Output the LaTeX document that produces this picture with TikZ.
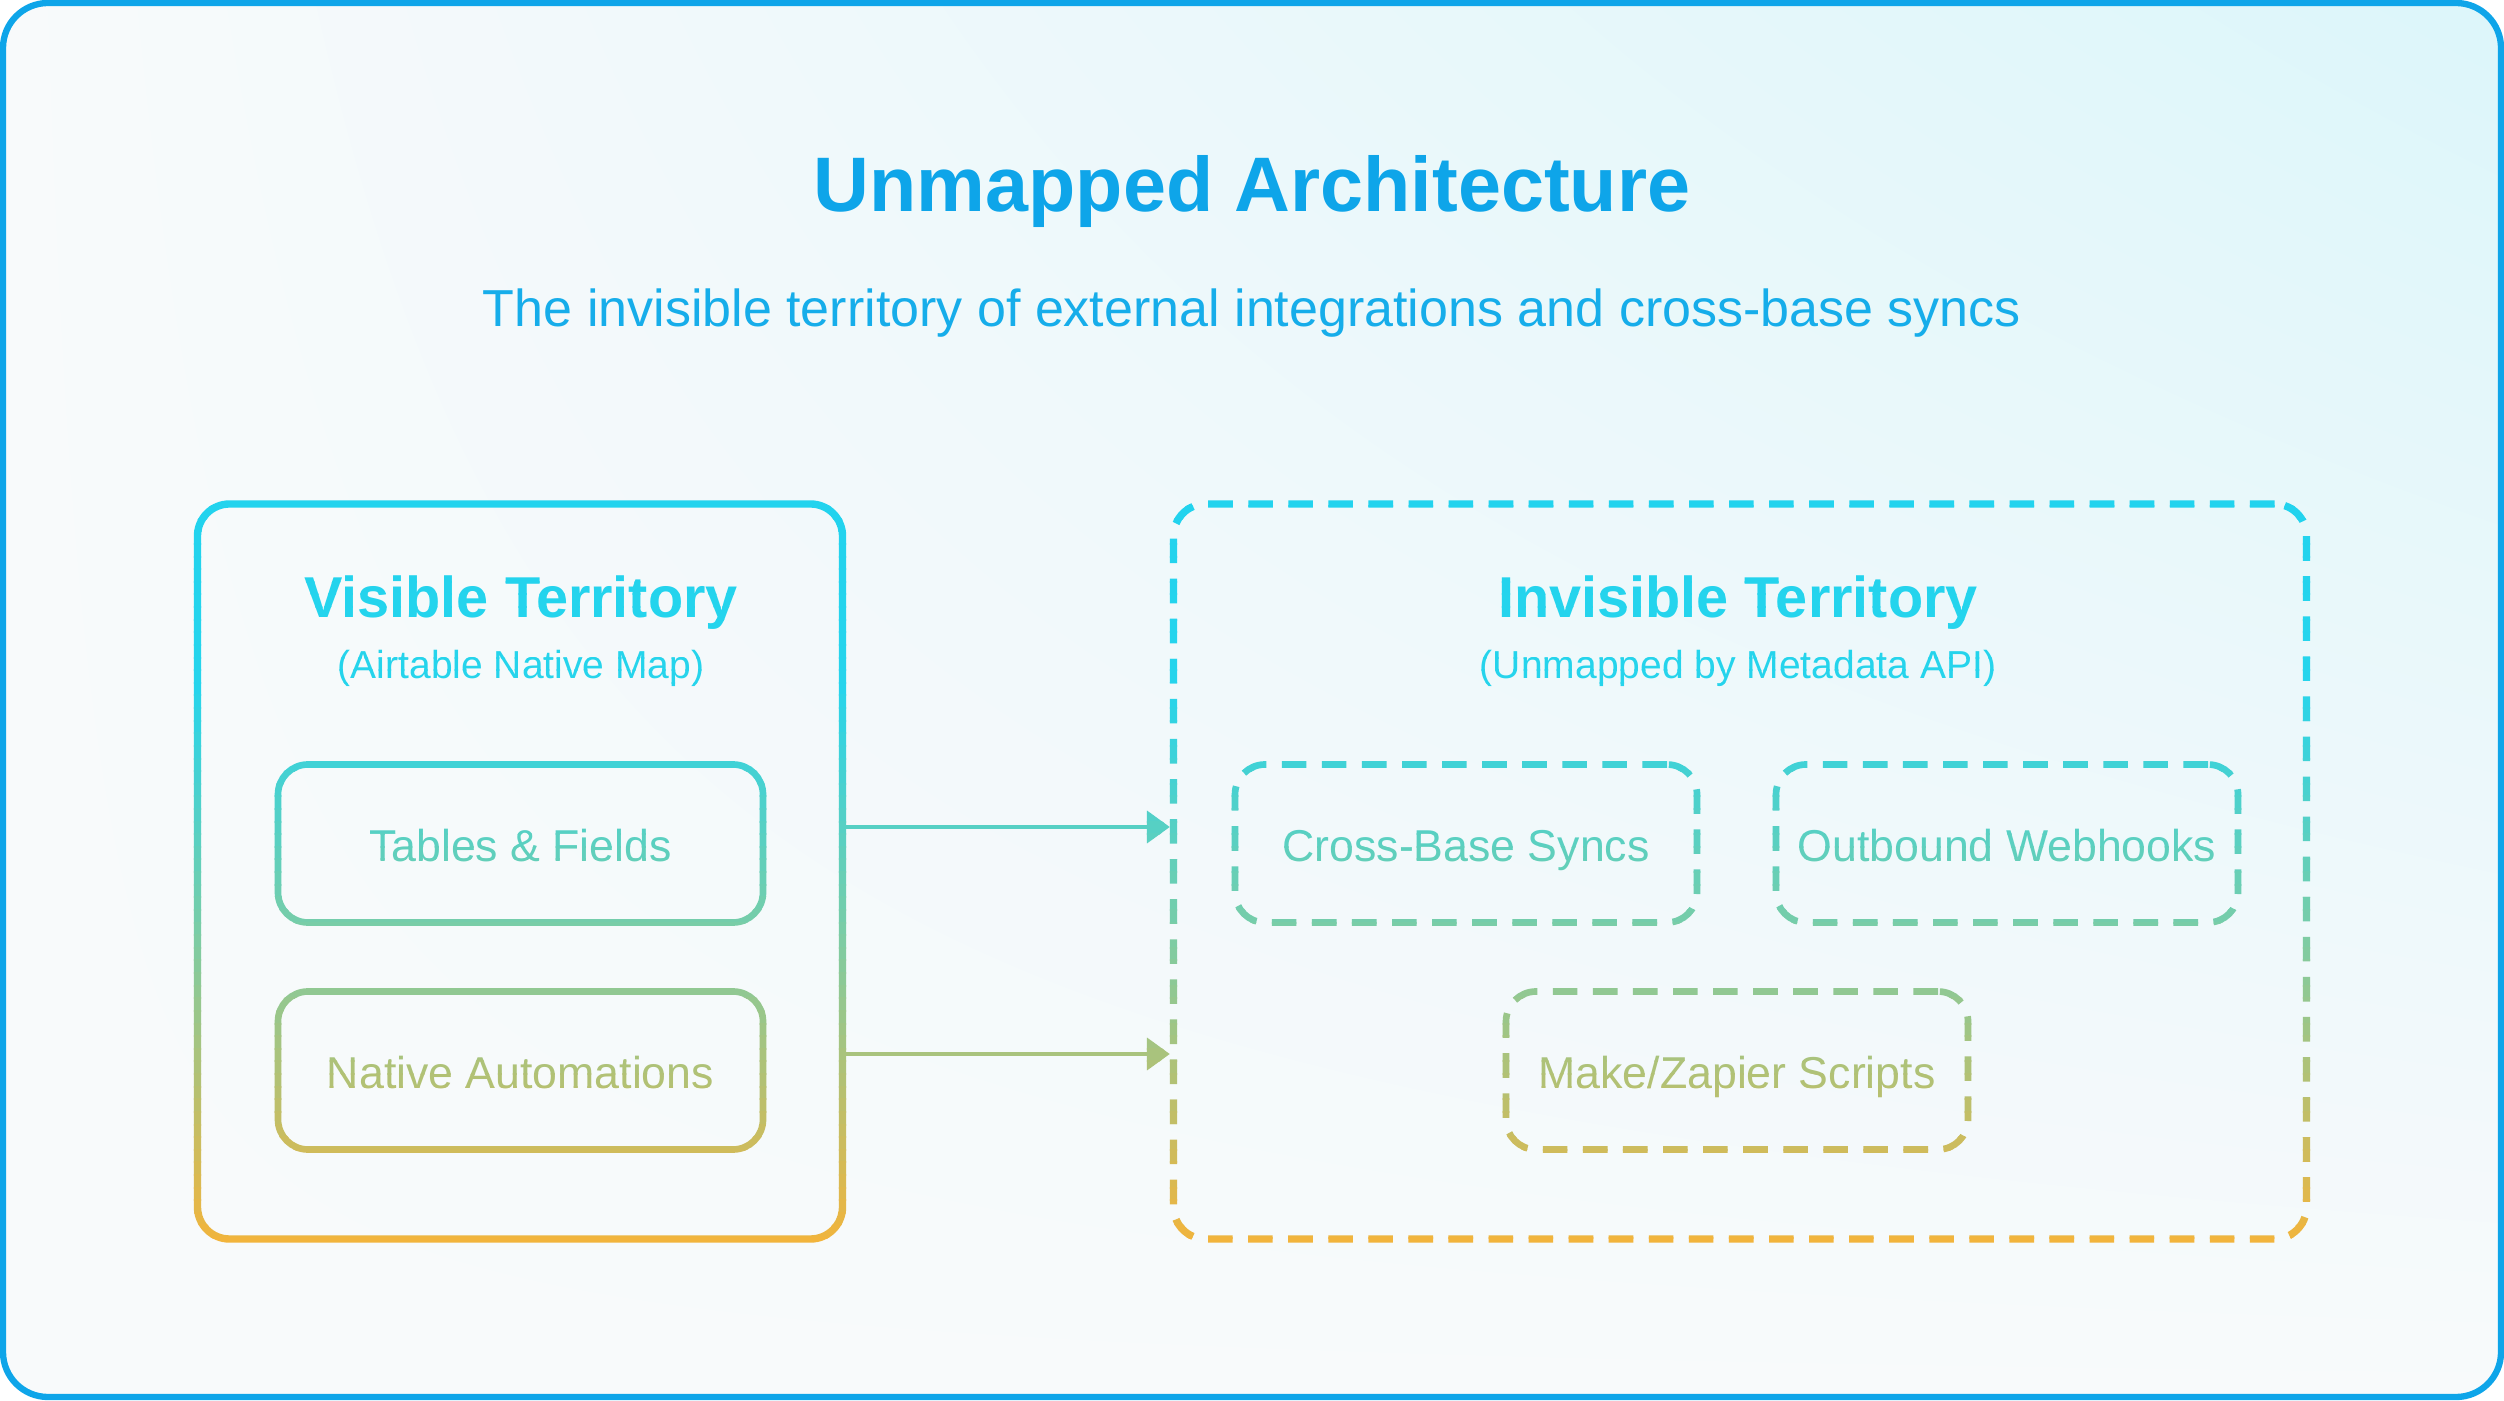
\documentclass[tikz,border=0pt]{standalone}
\usepackage{fontspec}
\setmainfont{Liberation Sans}
\usepackage{xcolor}
\usetikzlibrary{arrows.meta}
\usetikzlibrary{calc}
\usetikzlibrary{shadings}

\definecolor{skyline}{HTML}{0EA5E9}
\definecolor{subsky}{HTML}{16ADEA}
\definecolor{grada}{HTML}{22D3EE}
\definecolor{gradb}{HTML}{26D4EC}
\definecolor{gradc}{HTML}{7ACDA6}
\definecolor{gradd}{HTML}{F2B43C}
\definecolor{bgpale}{HTML}{F8FAFB}
\definecolor{bgcyan}{HTML}{DCF6FA}
\colorlet{strk}{grada}

\tikzset{
	terr/.style={draw=strk, line width=2.1pt, rounded corners=0.32cm, minimum width=6.45cm, minimum height=7.35cm},
	part/.style={draw=strk, text=strk, line width=1.9pt, rounded corners=0.3cm, minimum height=1.58cm, text height=11pt, text depth=0.8pt, font=\fontsize{12.7}{15}\selectfont},
	unmapped/.style={dash pattern=on 7pt off 4.4pt},
	heading/.style={text=strk, font=\fontsize{16.4}{20}\selectfont\bfseries, anchor=base},
	note/.style={text=strk, font=\fontsize{11.1}{13}\selectfont, anchor=base},
	flow/.style={strk, line width=1.4pt, -{Triangle[length=6.5pt,width=9pt]}}
}

\newcommand{\territories}{%
	\node[terr] (vis) at (5.20,5.285) {};
	\node[terr, unmapped, minimum width=11.33cm] (inv) at (17.40,5.285) {};
	\node[heading] (vishead) at (5.21,7.82) {Visible Territory};
	\node[note] (visnote) at (5.21,7.21) {(Airtable Native Map)};
	\node[heading] (invhead) at (17.38,7.82) {Invisible Territory};
	\node[note] (invnote) at (17.38,7.21) {(Unmapped by Metadata API)};
	\node[part, minimum width=4.85cm] (tf) at (5.205,5.565) {Tables \& Fields};
	\node[part, minimum width=4.85cm] (na) at (5.205,3.295) {Native Automations};
	\node[part, unmapped, minimum width=4.62cm] (cbs) at (14.66,5.565) {Cross-Base Syncs};
	\node[part, unmapped, minimum width=4.62cm] (ow) at (20.07,5.565) {Outbound Webhooks};
	\node[part, unmapped, minimum width=4.62cm] (mz) at (17.37,3.295) {Make/Zapier Scripts};
	\draw[flow] ($(vis.east |- tf)+(0,0.165)$) -- ($(inv.west |- tf)+(0,0.165)$);
	\draw[flow] ($(vis.east |- na)+(0,0.165)$) -- ($(inv.west |- na)+(0,0.165)$);
}

\begin{document}
\begin{tikzpicture}
	\useasboundingbox (0,0) rectangle (25.04,14);
	\fill[white] (0,0) rectangle (25.04,14);
	\shade[rounded corners=0.45cm, upper left=bgpale, upper right=bgcyan, lower left=bgpale, lower right=bgpale] (0.03,0.03) rectangle (25.01,13.97);
	\draw[skyline, line width=1.8pt, rounded corners=0.45cm] (0.03,0.03) rectangle (25.01,13.97);

	\node[skyline, font=\fontsize{22}{26}\selectfont\bfseries, anchor=base] (maintitle) at (12.52,11.88) {Unmapped Architecture};
	\node[subsky, font=\fontsize{14.8}{18}\selectfont, anchor=base] (subtitle) at (12.52,10.73) {The invisible territory of external integrations and cross-base syncs};

	\foreach \i in {0,...,59}{
		\pgfmathsetmacro\ytop{9.07-\i*0.1262}
		\pgfmathsetmacro\ybot{\ytop-0.1362}
		\pgfmathsetmacro\gpos{max(0,min(1,(8.99-(\ytop-0.0631))/7.41))}
		\ifdim\gpos pt<0.25pt
			\pgfmathtruncatemacro\gpct{100*\gpos/0.25}
			\colorlet{strk}{gradb!\gpct!grada}
		\else\ifdim\gpos pt<0.58pt
			\pgfmathtruncatemacro\gpct{100*(\gpos-0.25)/0.33}
			\colorlet{strk}{gradc!\gpct!gradb}
		\else
			\pgfmathtruncatemacro\gpct{100*(\gpos-0.58)/0.42}
			\colorlet{strk}{gradd!\gpct!gradc}
		\fi\fi
		\begin{scope}
			\clip (0,\ybot) rectangle (25.04,\ytop);
			\territories
		\end{scope}
	}
\end{tikzpicture}
\end{document}
